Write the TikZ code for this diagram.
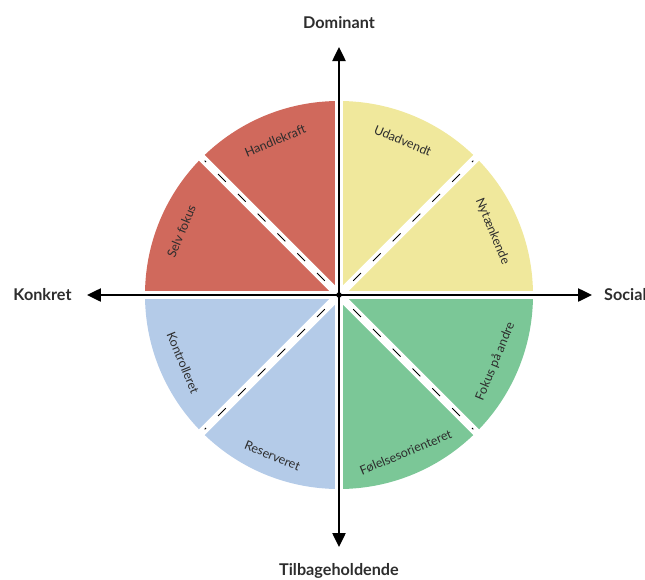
\documentclass[tikz,border=0pt]{standalone}
\usepackage{fontspec}
\setmainfont{Lato}
\usetikzlibrary{arrows.meta}
\definecolor{cred}{RGB}{208,105,92}
\definecolor{cyellow}{RGB}{240,232,156}
\definecolor{cgreen}{RGB}{123,199,151}
\definecolor{cblue}{RGB}{180,203,232}
\definecolor{textgray}{RGB}{45,45,45}
\begin{document}
\begin{tikzpicture}[x=1pt,y=1pt,
  axisline/.style={line width=2.5pt, {Triangle[length=14pt,width=13pt]}-{Triangle[length=14pt,width=13pt]}},
  band/.style={white, line width=8pt},
  dashline/.style={black, line width=1pt, dash pattern=on 11pt off 17pt, dash phase=8pt},
  seclabel/.style={font=\fontsize{12.5}{14}\selectfont, text=textgray, inner sep=0pt},
  axlabel/.style={font=\fontsize{16.2}{19}\selectfont\bfseries, text=textgray, inner sep=0pt}]
\useasboundingbox (-339,-284) rectangle (306,295);
\coordinate (O) at (0,0);
% quadrants
\fill[cred] (O) -- (90:194) arc (90:180:194) -- cycle;
\fill[cyellow] (O) -- (0:194) arc (0:90:194) -- cycle;
\fill[cblue] (O) -- (180:194) arc (180:270:194) -- cycle;
\fill[cgreen] (O) -- (270:194) arc (270:360:194) -- cycle;
% gaps
\foreach \a in {0,45,...,315} \draw[band] (O) -- (\a:200);
% dashed separators
\foreach \a in {45,135,225,315} \draw[dashline] (O) -- (\a:190);
% sector labels
\node[seclabel, rotate=22.5]  (hk) at (112.5:167) {Handlekraft};
\node[seclabel, rotate=-22.5] (ud) at (67.5:167) {Udadvendt};
\node[seclabel, rotate=-67.5] (ny) at (22.5:166) {Nytænkende};
\node[seclabel, rotate=67.5]  (sf) at (158:170) {Selv fokus};
\node[seclabel, rotate=-67.5] (ko) at (203.5:170) {Kontrolleret};
\node[seclabel, rotate=-22.5] (re) at (247.5:174) {Reserveret};
\node[seclabel, rotate=22.5]  (fo) at (293:171) {Følelsesorienteret};
\node[seclabel, rotate=67.5]  (fa) at (337:170) {Fokus på andre};
% axes
\coordinate (top) at (0,248);
\coordinate (bot) at (0,-252);
\coordinate (lft) at (-252,0);
\coordinate (rgt) at (253,0);
\draw[axisline] (bot) -- (top);
\draw[axisline] (lft) -- (rgt);
% axis labels
\node[axlabel] (dom) at (0,272.5) {Dominant};
\node[axlabel] (til) at (0,-276) {Tilbageholdende};
\node[axlabel] (kon) at (-296.5,0) {Konkret};
\node[axlabel, anchor=west] (soc) at (265,0) {Social};
\end{tikzpicture}
\end{document}
